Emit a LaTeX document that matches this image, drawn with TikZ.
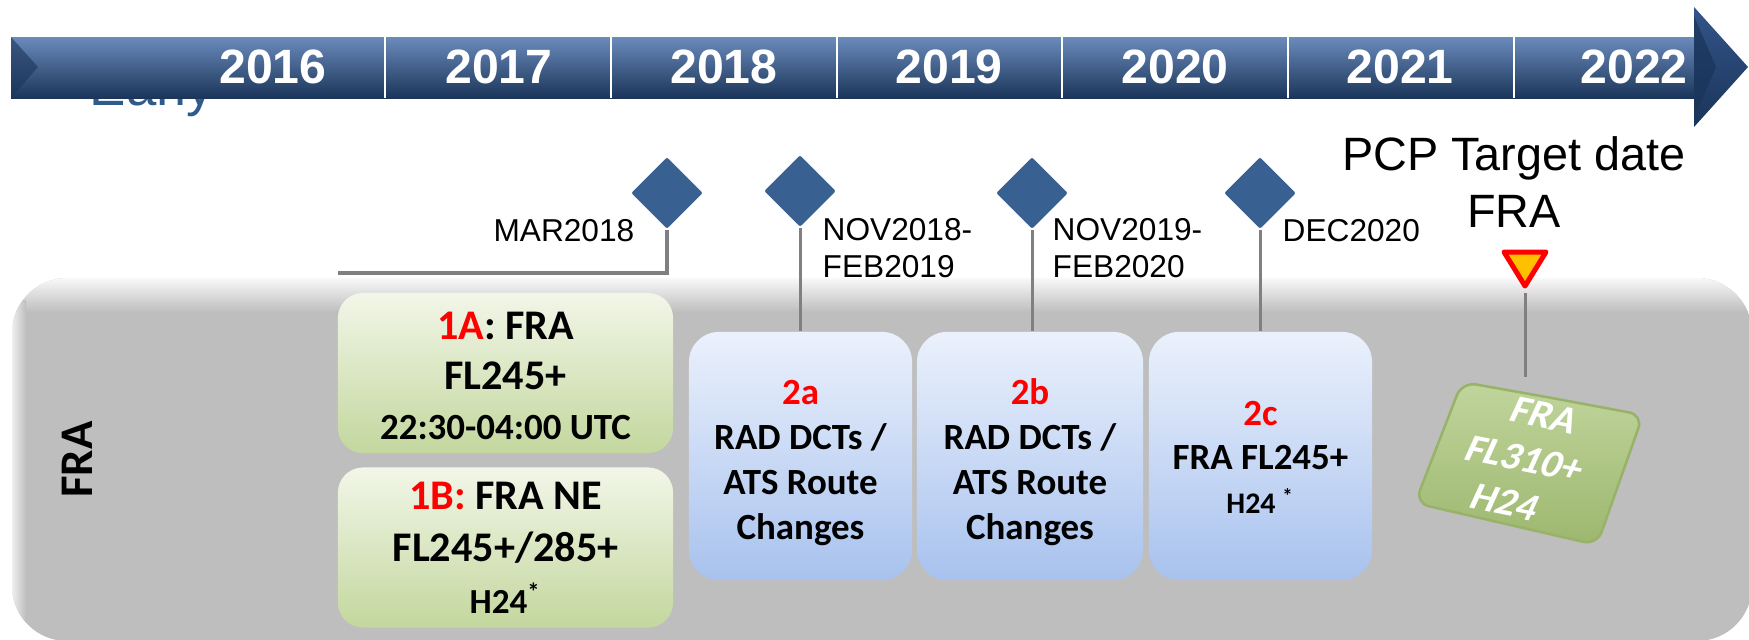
\documentclass[tikz,border=0pt]{standalone}
\usepackage{fontspec}
\setmainfont{Liberation Sans}
\newfontfamily\carl{Carlito}
\usetikzlibrary{shapes.geometric}
\definecolor{barTop}{HTML}{6A8BBB}
\definecolor{barMid}{HTML}{1F3B64}
\definecolor{barBot}{HTML}{1B355A}
\definecolor{headTop}{HTML}{33558A}
\definecolor{headBot}{HTML}{1A3459}
\definecolor{dblue}{HTML}{386192}
\definecolor{lanegray}{HTML}{BEBEBE}
\definecolor{gtop}{HTML}{F2F6E8}
\definecolor{gbot}{HTML}{C3D79E}
\definecolor{btop}{HTML}{EBF1FC}
\definecolor{bbot}{HTML}{A8C2EE}
\definecolor{stemgray}{HTML}{808080}
\definecolor{earlyblue}{HTML}{2F5A8C}
\definecolor{oliveTop}{HTML}{C0D59C}
\definecolor{oliveBot}{HTML}{9DB76F}
\definecolor{oliveEdge}{HTML}{98B268}
\definecolor{yieldorange}{HTML}{FFC000}
\newcommand{\szA}{\fontsize{12}{14.2}\selectfont}
\newcommand{\szB}{\fontsize{10.5}{13.4}\selectfont}
\newcommand{\topstrut}[1]{\rule{0pt}{#1}}
\begin{document}
\begin{tikzpicture}[x=0.01cm,y=-0.01cm,
  yearlbl/.style={text=white, font=\bfseries\fontsize{13.7}{16}\selectfont, inner sep=0},
  sepline/.style={white, line width=0.02cm},
  ms/.style={diamond, fill=dblue, inner sep=0, minimum width=0.72cm, minimum height=0.72cm, rounded corners=0.02cm},
  stemline/.style={stemgray, line width=0.03cm},
  datelbl/.style={font=\fontsize{9}{10.5}\selectfont, inner sep=0, align=left},
  greenbox/.style={rounded corners=0.25cm, top color=gtop, bottom color=gbot, minimum width=3.35cm, minimum height=1.6cm, inner sep=0, align=center},
  bluebox/.style={rounded corners=0.3cm, top color=btop, bottom color=bbot, minimum width=2.23cm, minimum height=2.48cm, inner sep=0, align=center, font=\carl\bfseries\fontsize{10.5}{12.8}\selectfont, text depth=0pt},
]
\useasboundingbox (0,0) rectangle (1749,639);
\clip (0,0) rectangle (1749,639);

% text partly hidden behind the bar
\node[anchor=base west, text=earlyblue, font=\fontsize{15.5}{18}\selectfont, inner sep=0] (early) at (89,105) {Early};

% timeline bar
\shade[top color=barTop, middle color=barMid, bottom color=barBot] (11,37) rectangle (1698,98);
\fill[barBot, opacity=0.6] (11,37) -- (38,67) -- (11,98) -- cycle;
\foreach \xx in {385,611,837,1062,1288,1514} \draw[sepline] (\xx,37) -- (\xx,98);
\shade[top color=headTop, bottom color=headBot] (1694,7) -- (1748,67) -- (1694,127) -- cycle;
\fill[headBot, opacity=0.7] (1694,16) -- (1716,67) -- (1694,118) -- cycle;
\foreach \yr/\xx in {2016/273,2017/499,2018/724,2019/949,2020/1175,2021/1400,2022/1634}
  \node[yearlbl] (y\yr) at (\xx,67) {\yr};

% FRA lane
\fill[lanegray, rounded corners=0.55cm] (12,278) rectangle (1752,641);
\begin{scope}
  \clip[rounded corners=0.55cm] (12,278) rectangle (1752,641);
  \shade[top color=white!90!lanegray, bottom color=lanegray] (0,278) rectangle (1760,312);
  \shade[left color=white!75!lanegray, right color=lanegray] (12,300) rectangle (26,641);
\end{scope}
\node[rotate=90, font=\carl\bfseries\fontsize{13.3}{16}\selectfont, inner sep=0] (lane) at (77,459.5) {FRA};

% boxes
\node[greenbox, font=\carl\bfseries\fontsize{12}{14.2}\selectfont] (b1a) at (505.5,373)
  {\szA\topstrut{0.34cm}\textcolor{red}{1A}: FRA\\\szA FL245+\\\szB 22:30-04:00 UTC};
\node[greenbox, font=\carl\bfseries\fontsize{12}{14.8}\selectfont] (b1b) at (505.5,547.5)
  {\szA\textcolor{red}{1B:} FRA NE\\\szA FL245+/285+\\\fontsize{10}{13.1}\selectfont H24\textsuperscript{*}};
\node[bluebox] (b2a) at (800.5,456) {\topstrut{0.32cm}\textcolor{red}{2a}\\RAD DCTs /\\ATS Route\\Changes};
\node[bluebox, minimum width=2.26cm] (b2b) at (1030,456) {\topstrut{0.32cm}\textcolor{red}{2b}\\RAD DCTs /\\ATS Route\\Changes};
\node[bluebox, font=\carl\bfseries\fontsize{10.5}{12.5}\selectfont] (b2c) at (1260.5,456)
  {\topstrut{0.27cm}\textcolor{red}{2c}\\FRA FL245+\\\fontsize{8.5}{11.4}\selectfont H24 \textsuperscript{*}};

% milestones
\node[ms] (d1) at (667,193) {};
\node[ms] (d2) at (800,191) {};
\node[ms] (d3) at (1032,193) {};
\node[ms] (d4) at (1260,193) {};
\coordinate (c1) at (338,273);
\draw[stemline, line width=0.04cm] (d1.south) |- (c1);
\draw[stemline] (d2.south) -- (d2.south |- b2a.north);
\draw[stemline] (d3.south) -- (d3.south |- b2b.north);
\draw[stemline] (d4.south) -- (d4.south |- b2c.north);

\node[datelbl, anchor=base east] (lmar) at (635,241) {MAR2018};
\node[datelbl, anchor=north west] (lnov18) at (822,218) {NOV2018-\\FEB2019};
\node[datelbl, anchor=north west] (lnov19) at (1052,218) {NOV2019-\\FEB2020};
\node[datelbl, anchor=base west] (ldec) at (1282,241) {DEC2020};

% PCP target
\node[font=\fontsize{13.3}{16.2}\selectfont, align=center, inner sep=0, anchor=north] (pcp) at (1514,136) {PCP Target date\\FRA};
\fill[yieldorange] (1504,252) -- (1546,252) -- (1525,286) -- cycle;
\draw[red, line width=0.05cm, line join=round] (1504,252) -- (1546,252) -- (1525,286) -- cycle;
\coordinate (ytip) at (1525,293);
\coordinate (gtopc) at (1525,377);
\draw[stemline] (ytip) -- (gtopc);

% rotated target box
\draw[top color=oliveTop, bottom color=oliveBot, draw=oliveEdge, line width=0.025cm, rounded corners=0.14cm]
  (1552,398) -- (1643,415) -- (1597,545) -- (1415,503) -- (1462,382) -- cycle;
\begin{scope}[shift={(1525,459)}, cm={0.980,-0.199,0.414,0.910,(0,0)}, transform shape]
  \node[font=\carl\bfseries\fontsize{11.5}{13.6}\selectfont, text=white, align=center, inner sep=0] (ftext) at (0,0) {FRA\\FL310+\\H24};
\end{scope}
\end{tikzpicture}
\end{document}
